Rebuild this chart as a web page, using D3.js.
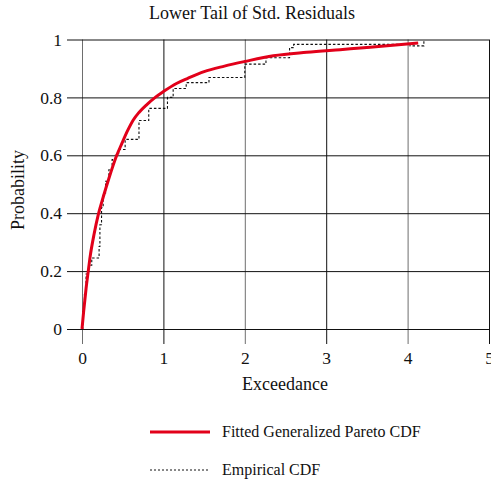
<!DOCTYPE html>
<html>
<head>
<meta charset="utf-8">
<script src="https://cdn.jsdelivr.net/npm/d3@7"></script>
<style>
  html, body { margin: 0; padding: 0; background: #fff; }
  svg { display: block; font-family: "Liberation Serif", "Times New Roman", serif; }
</style>
</head>
<body>
<svg id="chart" width="491" height="483"></svg>
<script>
// Fitted generalized Pareto CDF of the lower-tail exceedances
const fitX = [0, 0.02, 0.05, 0.077, 0.1, 0.15, 0.2, 0.26, 0.33, 0.42, 0.49, 0.56, 0.63, 0.7, 0.8, 0.9, 1.0, 1.16, 1.3, 1.5, 1.75, 2.0, 2.35, 2.76, 3.17, 3.54, 4.13];
const fitP = [0, 0.06, 0.14, 0.2, 0.25, 0.33, 0.395, 0.455, 0.52, 0.595, 0.641, 0.685, 0.722, 0.748, 0.776, 0.8, 0.82, 0.848, 0.866, 0.889, 0.908, 0.924, 0.944, 0.956, 0.965, 0.973, 0.988];

// Empirical CDF: jump locations and levels after each jump
const ecdfX = [0, 0.01, 0.03, 0.05, 0.08, 0.12, 0.21, 0.22, 0.24, 0.26, 0.29, 0.33, 0.37, 0.41, 0.45, 0.53, 0.70, 0.82, 1.05, 1.12, 1.28, 1.56, 2.0, 2.26, 2.55, 2.60, 4.03, 4.2];
const ecdfP = [0, 0.06, 0.12, 0.19, 0.22, 0.245, 0.285, 0.36, 0.42, 0.47, 0.51, 0.55, 0.585, 0.60, 0.62, 0.655, 0.72, 0.762, 0.80, 0.831, 0.851, 0.869, 0.915, 0.937, 0.972, 0.983, 0.978, 1.0];

const xTicks = [0, 1, 2, 3, 4, 5];
const yTicks = [0, 0.2, 0.4, 0.6, 0.8, 1];
const yTickLabels = ["0", "0.2", "0.4", "0.6", "0.8", "1"];

const titleText = "Lower Tail of Std. Residuals";
const xLabel = "Exceedance";
const yLabel = "Probability";
const legendLabels = ["Fitted Generalized Pareto CDF", "Empirical CDF"];

const svg = d3.select("#chart");
const x = d3.scaleLinear().domain([0, 5]).range([82, 489]);
const y = d3.scaleLinear().domain([0, 1]).range([329, 39.5]);
const tickLen = 15;
const red = "#e2001a";
const ink = "#111";

// Grid: each tick line runs across the plot and past the axis
const xAxis = d3.axisBottom(x).tickValues(xTicks).tickFormat(d3.format("d"))
  .tickSizeInner(-(y(0) - y(1)) - tickLen).tickSizeOuter(0).tickPadding(8);
svg.append("g").attr("transform", `translate(0,${y(0) + tickLen})`).call(xAxis)
  .call(g => g.select(".domain").remove())
  .call(g => g.selectAll("line").attr("stroke", d => d % 2 === 0 ? "#6e6e6e" : ink))
  .call(g => g.selectAll("text").attr("font-size", 17.5).attr("fill", ink)
    .attr("font-family", "Liberation Serif, serif"));

const yAxis = d3.axisLeft(y).tickValues(yTicks).tickFormat((d, i) => yTickLabels[i])
  .tickSizeInner(-(x(5) - x(0)) - tickLen).tickSizeOuter(0).tickPadding(5);
svg.append("g").attr("transform", `translate(${x(0) - tickLen},0)`).call(yAxis)
  .call(g => g.select(".domain").remove())
  .call(g => g.selectAll("line").attr("stroke", ink))
  .call(g => g.selectAll("text").attr("font-size", 17.5).attr("fill", ink)
    .attr("font-family", "Liberation Serif, serif"));

// Empirical CDF (stairs, dotted)
const ecdf = ecdfX.map((v, i) => [v, ecdfP[i]]);
svg.append("path").datum(ecdf)
  .attr("fill", "none").attr("stroke", ink).attr("stroke-width", 1.1)
  .attr("stroke-dasharray", "2.5,2")
  .attr("d", d3.line().x(d => x(d[0])).y(d => y(d[1])).curve(d3.curveStepAfter));

// Fitted GPD CDF
const fit = fitX.map((v, i) => [v, fitP[i]]);
svg.append("path").datum(fit)
  .attr("fill", "none").attr("stroke", red).attr("stroke-width", 3)
  .attr("stroke-linejoin", "round")
  .attr("d", d3.line().x(d => x(d[0])).y(d => y(d[1])).curve(d3.curveMonotoneX));

// Titles
svg.append("text").attr("x", 252).attr("y", 19).attr("text-anchor", "middle")
  .attr("font-size", 18).attr("fill", ink).text(titleText);
svg.append("text").attr("x", 285).attr("y", 390).attr("text-anchor", "middle")
  .attr("font-size", 18).attr("fill", ink).text(xLabel);
svg.append("text").attr("transform", "translate(24,190) rotate(-90)")
  .attr("text-anchor", "middle").attr("font-size", 18).attr("fill", ink).text(yLabel);

// Legend
const legend = svg.append("g");
legend.append("line").attr("x1", 150).attr("x2", 210).attr("y1", 432).attr("y2", 432)
  .attr("stroke", red).attr("stroke-width", 3);
legend.append("text").attr("x", 222).attr("y", 437).attr("font-size", 16)
  .attr("fill", ink).text(legendLabels[0]);
legend.append("line").attr("x1", 150).attr("x2", 210).attr("y1", 470).attr("y2", 470)
  .attr("stroke", ink).attr("stroke-width", 1).attr("stroke-dasharray", "2,2");
legend.append("text").attr("x", 222).attr("y", 475).attr("font-size", 16)
  .attr("fill", ink).text(legendLabels[1]);
</script>
</body>
</html>
